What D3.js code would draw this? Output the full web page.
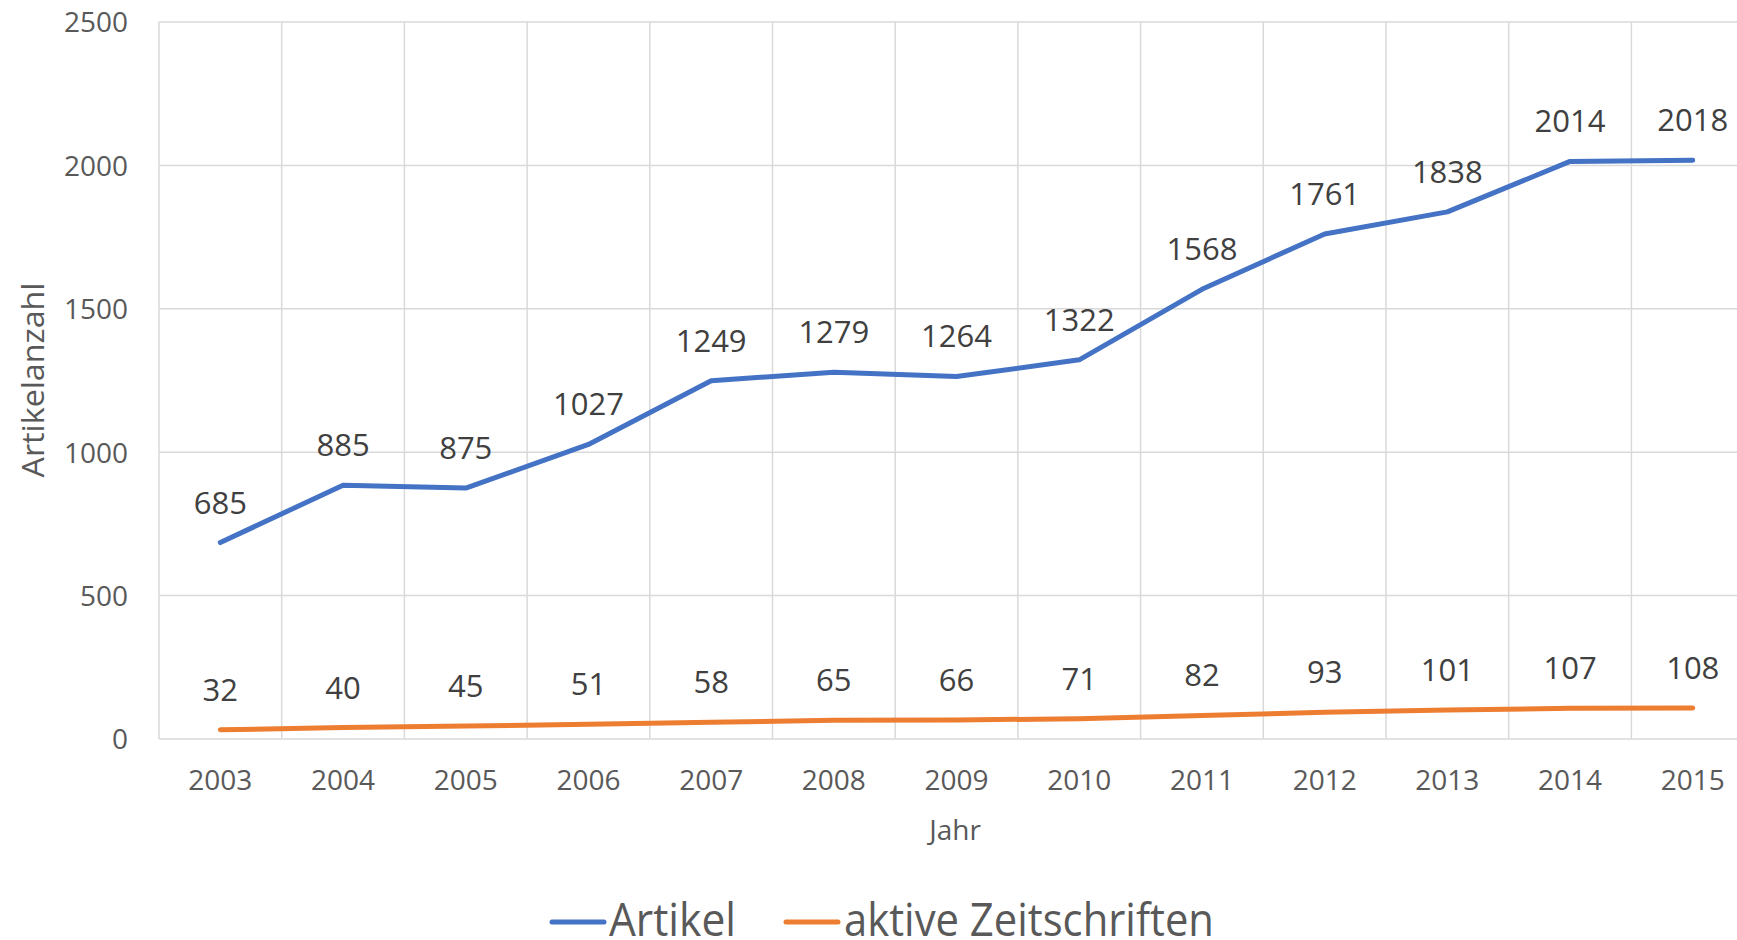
<!DOCTYPE html>
<html>
<head>
<meta charset="utf-8">
<script src="https://cdn.jsdelivr.net/npm/d3@7"></script>
<style>
	body { margin: 0; background: #fff; overflow: hidden; }
	text { font-family: "Open Sans", sans-serif; }
</style>
</head>
<body>
<div id="chart"></div>
<script>

var years = ["2003","2004","2005","2006","2007","2008","2009","2010","2011","2012","2013","2014","2015"];
var artikel = [685, 885, 875, 1027, 1249, 1279, 1264, 1322, 1568, 1761, 1838, 2014, 2018];
var zeitschriften = [32, 40, 45, 51, 58, 65, 66, 71, 82, 93, 101, 107, 108];
var yTicks = [0, 500, 1000, 1500, 2000, 2500];

var width = 1737, height = 940;
var plotLeft = 159, plotTop = 22, plotBottom = 739;
var bandW = 122.7;

var svg = d3.select("#chart").append("svg")
		.attr("width", width)
		.attr("height", height);

var x = d3.scaleBand().domain(years).range([plotLeft, plotLeft + bandW * years.length]);
var y = d3.scaleLinear().domain([0, 2500]).range([plotBottom, plotTop]);

//grid
svg.append("g").selectAll("line")
	.data(yTicks)
	.enter().append("line")
	.attr("x1", plotLeft).attr("x2", plotLeft + bandW * years.length)
	.attr("y1", function(d) { return y(d); })
	.attr("y2", function(d) { return y(d); })
	.attr("stroke", "#d9d9d9").attr("stroke-width", 1.5);

svg.append("g").selectAll("line")
	.data(years)
	.enter().append("line")
	.attr("x1", function(d) { return x(d); })
	.attr("x2", function(d) { return x(d); })
	.attr("y1", plotTop).attr("y2", plotBottom)
	.attr("stroke", "#d9d9d9").attr("stroke-width", 1.5);

//axes
var yAxis = svg.append("g")
		.attr("transform", "translate(" + (plotLeft - 31) + ",0)")
		.call(d3.axisLeft(y).tickValues(yTicks).tickFormat(d3.format("d")).tickSize(0).tickPadding(0));
yAxis.select(".domain").remove();
yAxis.selectAll("text")
	.attr("font-size", 28).attr("font-family", "Open Sans").attr("fill", "#595959").attr("dy", "0.35em");

var xAxis = svg.append("g")
		.attr("transform", "translate(0," + plotBottom + ")")
		.call(d3.axisBottom(x).tickSize(0).tickPadding(0));
xAxis.select(".domain").remove();
xAxis.selectAll("text")
	.attr("font-size", 28).attr("font-family", "Open Sans").attr("fill", "#595959")
	.attr("y", 51).attr("dy", 0);

svg.append("text")
	.attr("transform", "translate(44,380) rotate(-90)")
	.attr("text-anchor", "middle")
	.attr("font-size", 31).attr("fill", "#595959")
	.attr("textLength", 195).attr("lengthAdjust", "spacingAndGlyphs")
	.text("Artikelanzahl");

svg.append("text")
	.attr("x", 955).attr("y", 840)
	.attr("text-anchor", "middle")
	.attr("font-size", 28).attr("fill", "#595959")
	.text("Jahr");

//lines
var series = [
	{name: "Artikel", values: artikel, color: "#4472c4"},
	{name: "aktive Zeitschriften", values: zeitschriften, color: "#ed7d31"}
];

var line = d3.line()
	.x(function(d, i) { return x(years[i]) + x.bandwidth() / 2; })
	.y(function(d) { return y(d); });

series.forEach(function(s) {
	svg.append("path")
		.datum(s.values)
		.attr("d", line)
		.attr("fill", "none")
		.attr("stroke", s.color)
		.attr("stroke-width", 5)
		.attr("stroke-linecap", "round")
		.attr("stroke-linejoin", "round");

	svg.append("g").selectAll("text")
		.data(s.values)
		.enter().append("text")
		.attr("x", function(d, i) { return x(years[i]) + x.bandwidth() / 2; })
		.attr("y", function(d) { return y(d) - 29; })
		.attr("text-anchor", "middle")
		.attr("font-size", 31)
		.attr("fill", "#404040")
		.text(function(d) { return d; });
});

//legend
var legend = [
	{x1: 552, x2: 604, tx: 609, tw: 127},
	{x1: 786, x2: 838, tx: 844, tw: 370}
];
legend.forEach(function(l, i) {
	svg.append("line")
		.attr("x1", l.x1).attr("x2", l.x2)
		.attr("y1", 922).attr("y2", 922)
		.attr("stroke", series[i].color).attr("stroke-width", 5)
		.attr("stroke-linecap", "round");
	svg.append("text")
		.attr("x", l.tx).attr("y", 936)
		.attr("font-size", 45).attr("fill", "#595959")
		.attr("textLength", l.tw).attr("lengthAdjust", "spacingAndGlyphs")
		.text(series[i].name);
});

</script>
</body>
</html>
